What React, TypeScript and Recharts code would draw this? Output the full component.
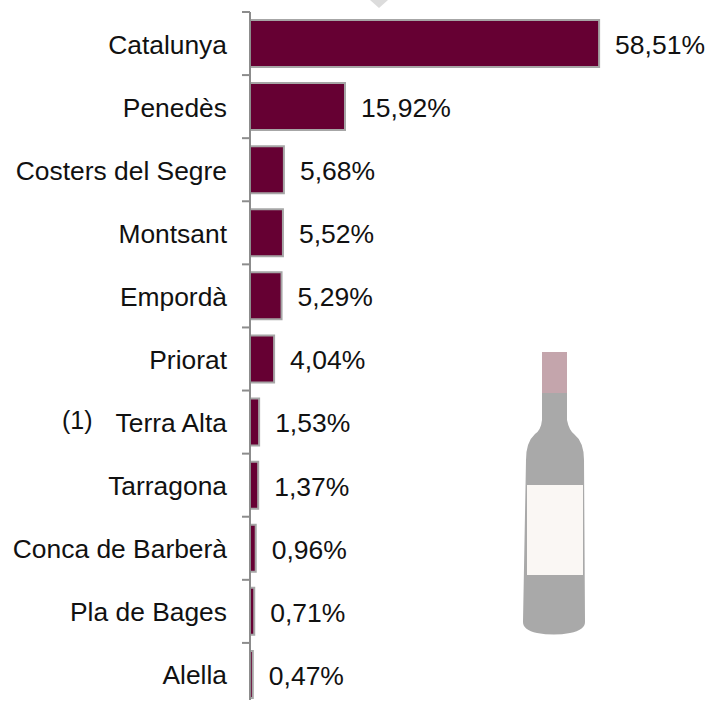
import { BarChart, Bar, XAxis, YAxis, LabelList } from "recharts"

const categories = [
  "Catalunya",
  "Penedès",
  "Costers del Segre",
  "Montsant",
  "Empordà",
  "Priorat",
  "Terra Alta",
  "Tarragona",
  "Conca de Barberà",
  "Pla de Bages",
  "Alella"
]
const shares = [58.51, 15.92, 5.68, 5.52, 5.29, 4.04, 1.53, 1.37, 0.96, 0.71, 0.47]
const footnotes: Record<string, string> = { "Terra Alta": "(1)" }

const data = categories.map((name, i) => ({ name, share: shares[i] }))

const FONT = "'Liberation Sans', Arial, sans-serif"
const BAND = 63.1

function CategoryTick({ x, y, payload }: any) {
  const note = footnotes[payload.value]
  return (
    <g>
      <line x1={x + 21} x2={x + 29} y1={y - BAND / 2} y2={y - BAND / 2} stroke="#8c8c8c" strokeWidth={2} />
      <text x={x + 6} y={y + 1} textAnchor="end" dominantBaseline="central" fontSize={26.4} fontFamily={FONT} fill="#111">
        {payload.value}
      </text>
      {note && (
        <text x={62} y={y - 2} dominantBaseline="central" fontSize={25} fontFamily={FONT} fill="#111">
          {note}
        </text>
      )}
    </g>
  )
}

function Bottle() {
  return (
    <svg width={711} height={702} style={{ position: "absolute", left: 0, top: 0, pointerEvents: "none" }}>
      <defs>
        <filter id="soft">
          <feGaussianBlur stdDeviation="0.6" />
        </filter>
      </defs>
      <polygon points="370,0 388,0 379,8" fill="#dcdcdc" />
      <g filter="url(#soft)">
        <path
          d="M542 392 L567 392 L567 420 Q569 430 574 434 Q584 442 584 460 L585 622 Q585 630 570 633 Q554 636 537 633 Q523 630 523 622 L526 460 Q526 442 535 434 Q541 430 542 420 Z"
          fill="#a9a9a9"
        />
        <rect x={542} y={352} width={25} height={41} fill="#c4a5ac" />
        <rect x={527} y={485} width={56} height={90} fill="#faf7f4" />
      </g>
    </svg>
  )
}

export default function App() {
  return (
    <div style={{ position: "absolute", left: 0, top: 0, width: 711, height: 700, overflow: "hidden", background: "#fff" }}>
      <BarChart
        width={711}
        height={710}
        data={data}
        layout="vertical"
        margin={{ top: 12, right: 103, bottom: 4, left: 0 }}
      >
        <XAxis type="number" domain={[0, 60]} hide />
        <YAxis
          type="category"
          dataKey="name"
          width={250}
          interval={0}
          axisLine={{ stroke: "#8c8c8c", strokeWidth: 2 }}
          tickLine={false}
          tickMargin={23}
          tick={<CategoryTick />}
        />
        <Bar dataKey="share" fill="#660033" stroke="#a6a6a6" strokeWidth={2} barSize={47} isAnimationActive={false}>
          <LabelList
            dataKey="share"
            position="right"
            offset={16}
            dy={1}
            formatter={(v: any) => `${Number(v).toFixed(2).replace(".", ",")}%`}
            fontSize={26.5}
            fontFamily={FONT}
            fill="#111"
          />
        </Bar>
      </BarChart>
      <Bottle />
    </div>
  )
}
